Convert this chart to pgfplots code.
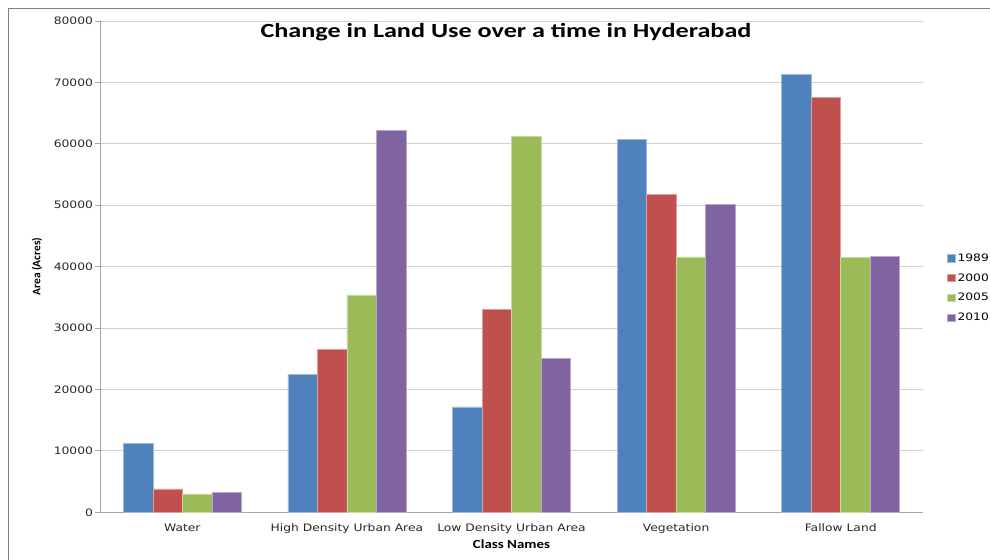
\documentclass[border=0pt]{standalone}
\usepackage{pgfplots}
\pgfplotsset{compat=1.18}
\usepackage{fontspec}
\setmainfont{DejaVu Sans}
\newfontfamily\carlito{Carlito}
\definecolor{c1}{HTML}{4F81BD}
\definecolor{c2}{HTML}{C0504D}
\definecolor{c3}{HTML}{9BBB59}
\definecolor{c4}{HTML}{8064A2}
\definecolor{gridc}{HTML}{CFCFCF}
\definecolor{axc}{HTML}{A6A6A6}
\pgfplotstableread{
x y1989 y2000 y2005 y2010
0 11200 3800 3000 3300
1 22500 26500 35400 62250
2 17150 33100 61200 25100
3 60700 51800 41600 50200
4 71250 67500 41450 41700
}\landuse
\newcommand{\sx}[1]{\scalebox{1.2}[1]{#1}}
\begin{document}
\begin{tikzpicture}
\path[use as bounding box] (0bp,0bp) rectangle (990bp,560bp);
\draw[color=gray, line width=1bp] (8.5bp,0bp) -- (8.5bp,551.5bp) -- (990bp,551.5bp);
\begin{axis}[
  at={(100bp,47.7bp)}, anchor=south west,
  width=823bp, height=491.3bp, scale only axis,
  xmin=-0.5, xmax=4.5, ymin=0, ymax=80000,
  ybar=0pt, bar width=29.5bp,
  axis x line*=bottom, axis y line*=left,
  axis line style={color=axc, line width=0.8bp},
  ymajorgrids, grid style={color=gridc, line width=0.8bp},
  ytick={0,10000,...,80000},
  scaled y ticks=false,
  yticklabel={\sx{\pgfmathprintnumber[assume math mode=true,1000 sep={}]{\tick}}},
  yticklabel style={font=\fontsize{10.3}{12}\selectfont, color=black!85, xshift=1.5bp},
  tick align=outside, major tick length=5bp,
  ytick style={color=axc, line width=0.8bp},
  xtick={0,1,2,3,4},
  xtick style={draw=none},
  minor xtick={-0.5,0.5,1.5,2.5,3.5,4.5},
  minor tick length=5bp,
  minor x tick style={color=axc, line width=0.8bp},
  xticklabels={\sx{Water},\sx{High Density Urban Area},\sx{Low Density Urban Area},\sx{Vegetation},\sx{Fallow Land}},
  xticklabel style={font=\fontsize{10.3}{12}\selectfont, color=black!85, yshift=-3bp},
  xlabel={\sx{Class Names}},
  xlabel style={font=\carlito\bfseries\fontsize{12.5}{14}\selectfont, at={(axis description cs:0.5,0)}, anchor=center, yshift=-31.7bp},
  title={\scalebox{1.3}[1]{Change in Land Use over a time in Hyderabad}},
  title style={font=\carlito\bfseries\fontsize{20.2}{22}\selectfont, at={(axis description cs:0.4933,0.966)}, anchor=center},
  legend style={at={(axis description cs:1.0295,0.531)}, anchor=north west, draw=none, fill=none,
    font=\fontsize{10.3}{12}\selectfont, legend cell align=left, row sep=6.7bp, inner sep=0pt},
  legend image code/.code={\fill[#1] (0bp,-3.7bp) rectangle (7.5bp,3.7bp);},
  every axis plot/.append style={line width=0.6bp},
]
\addplot[fill=c1, draw=c1!55!white] table[x=x, y=y1989] {\landuse};
\addplot[fill=c2, draw=c2!55!white] table[x=x, y=y2000] {\landuse};
\addplot[fill=c3, draw=c3!55!white] table[x=x, y=y2005] {\landuse};
\addplot[fill=c4, draw=c4!55!white] table[x=x, y=y2010] {\landuse};
\legend{\sx{1989},\sx{2000},\sx{2005},\sx{2010}}
\end{axis}
\node[rotate=90, font=\carlito\bfseries\fontsize{11.5}{13}\selectfont] at (37bp,293.5bp) {Area (Acres)};
\end{tikzpicture}
\end{document}
